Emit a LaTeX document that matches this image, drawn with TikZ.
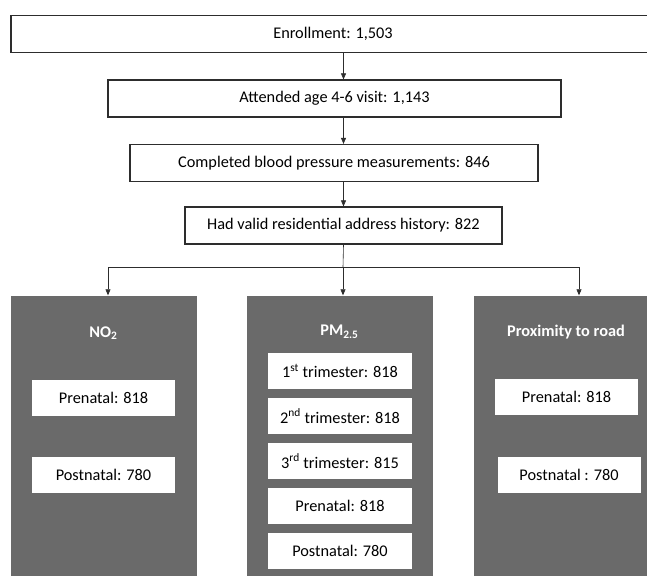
\documentclass[tikz,border=0pt]{standalone}
\usepackage{fontspec}
\setmainfont{Carlito}
\usetikzlibrary{arrows.meta}
\definecolor{PanelGray}{RGB}{106, 106, 106}
\definecolor{LineGray}{RGB}{45, 45, 45}

\begin{document}
\begin{tikzpicture}[
    x=1pt, y=-1pt,
    box/.style={draw=LineGray, line width=1.2pt, rectangle, minimum height=37pt, inner sep=0pt, align=center, font=\fontsize{16.3}{19}\selectfont, fill=white},
    panel/.style={rectangle, fill=PanelGray, minimum width=186pt, minimum height=290pt, inner sep=0pt},
    title/.style={text=white, inner sep=0pt, font=\fontsize{16.3}{19}\selectfont\bfseries},
    count/.style={rectangle, fill=white, minimum width=143pt, minimum height=36pt, inner sep=0pt, font=\fontsize{16.3}{19}\selectfont},
    arr/.style={draw=LineGray, line width=0.6pt, -{Triangle[length=6pt, width=5pt]}},
  ]
    \clip (0,0) rectangle (647,575);
    \fill[white] (0,0) rectangle (647,575);

    \node[box, minimum width=644pt] (enroll) at (333,34) {Enrollment: 1,503};
    \node[box, minimum width=453pt] (attend) at (334.5,98.5) {Attended age 4-6 visit: 1,143};
    \node[box, minimum width=408pt] (bp) at (334,163) {Completed blood pressure measurements: 846};
    \node[box, minimum width=317pt] (address) at (343.5,225.5) {Had valid residential address history: 822};

    \node[panel] (no2) at (103.5,440.5) {};
    \node[panel] (pm) at (339.5,440.5) {};
    \node[panel] (road) at (566.5,440.5) {};

    \node[title] (no2title) at (103.5,333) {NO\textsubscript{2}};
    \node[title] (pmtitle) at (339.5,332) {PM\textsubscript{2.5}};
    \node[title] (roadtitle) at (566,332) {Proximity to road};

    \node[count] (no2pre) at (103.5,398) {Prenatal: 818};
    \node[count] (no2post) at (103.5,475) {Postnatal: 780};

    \node[count, minimum width=144pt] (pmfirst) at (340,371) {1\textsuperscript{st} trimester: 818};
    \node[count, minimum width=144pt] (pmsecond) at (340,416) {2\textsuperscript{nd} trimester: 818};
    \node[count, minimum width=144pt] (pmthird) at (340,461) {3\textsuperscript{rd} trimester: 815};
    \node[count, minimum width=144pt] (pmpre) at (340,506) {Prenatal: 818};
    \node[count, minimum width=144pt] (pmpost) at (340,550.5) {Postnatal: 780};

    \node[count] (roadpre) at (566.5,396.5) {Prenatal: 818};
    \node[count] (roadpost) at (569,475) {Postnatal : 780};

    \draw[arr] (enroll.south -| address) -- (attend.north -| address);
    \draw[arr] (attend.south -| address) -- (bp.north -| address);
    \draw[arr] (bp.south -| address) -- (address.north);

    \coordinate (split) at (343,267);
    \coordinate (leftend) at (108,267);
    \coordinate (rightend) at (579,267);
    \draw[draw=LineGray, line width=0.6pt] (address.south) -- (split);
    \draw[draw=LineGray, line width=0.6pt] (leftend) -- (rightend);
    \draw[arr] (leftend) -- (leftend |- no2.north);
    \draw[arr] (split) -- (split |- pm.north);
    \draw[arr] (rightend) -- (rightend |- road.north);
  \end{tikzpicture}
\end{document}
